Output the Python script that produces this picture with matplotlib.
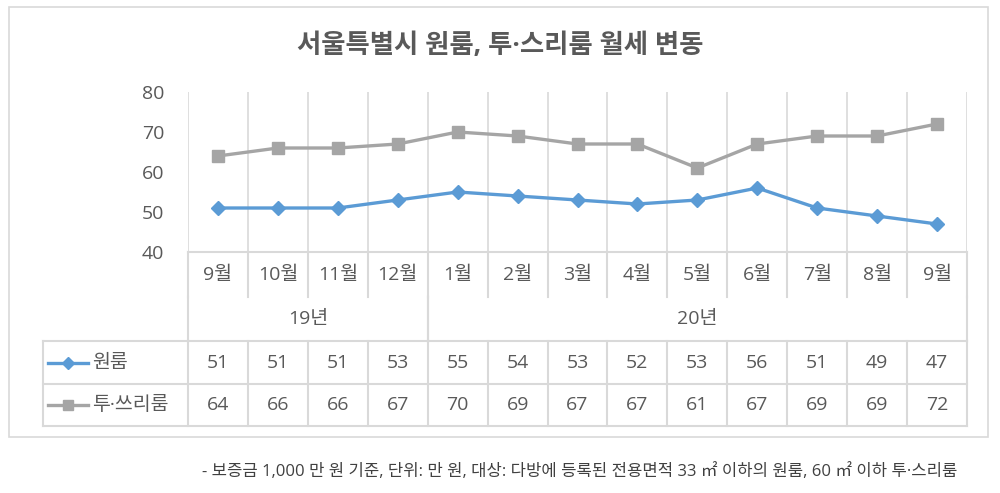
import matplotlib
matplotlib.use("Agg")
import matplotlib.pyplot as plt
from matplotlib.patches import Rectangle
from matplotlib.lines import Line2D

plt.rcParams["font.family"] = ["Open Sans", "Noto Sans CJK KR", "DejaVu Sans"]

# data
months = ["9월", "10월", "11월", "12월", "1월", "2월", "3월", "4월", "5월", "6월", "7월", "8월", "9월"]
years = ["19년", "20년"]
year_spans = [(0, 3), (4, 12)]
oneroom = [51, 51, 51, 53, 55, 54, 53, 52, 53, 56, 51, 49, 47]
tworoom = [64, 66, 66, 67, 70, 69, 67, 67, 61, 67, 69, 69, 72]
series_names = ["원룸", "투·쓰리룸"]
yticks = [40, 50, 60, 70, 80]

title = "서울특별시 원룸, 투·스리룸 월세 변동"
note = "- 보증금 1,000 만 원 기준, 단위: 만 원, 대상: 다방에 등록된 전용면적 33 ㎡ 이하의 원룸, 60 ㎡ 이하 투·스리룸"

BLUE = "#5B9BD5"
GREY = "#A5A5A5"
GRID = "#D9D9D9"
TEXT = "#595959"

W, H = 1000, 493
PLOT_L, PLOT_R = 188, 967
PLOT_T, PLOT_B = 92, 252
TAB_L = 43
ROW_Y = [252, 297, 341, 384, 426]


def box(l, t, r, b):
    return [l / W, 1 - b / H, (r - l) / W, (b - t) / H]


fig = plt.figure(figsize=(W / 100, H / 100), dpi=100)

# outer frame
fig.patches.append(Rectangle((9 / W, 1 - 437 / H), 979 / W, 430 / H,
                             transform=fig.transFigure, fill=False,
                             edgecolor=GRID, linewidth=1.2))

fig.text(500 / W, 1 - 45 / H, title, ha="center", va="center",
         fontsize=19, fontweight="bold", color=TEXT)

# ---- line chart
n = len(months)
x = list(range(n))
ax = fig.add_axes(box(PLOT_L, PLOT_T, PLOT_R, PLOT_B))
ax.set_xlim(-0.5, n - 0.5)
ax.set_ylim(yticks[0], yticks[-1])
for k in range(n + 1):
    ax.axvline(k - 0.5, color=GRID, linewidth=1.2, zorder=0)
ax.plot(x, tworoom, color=GREY, linewidth=2.4, marker="s", markersize=8.5, zorder=3, clip_on=False)
ax.plot(x, oneroom, color=BLUE, linewidth=2.4, marker="D", markersize=7.5, zorder=3, clip_on=False)
ax.set_yticks(yticks)
ax.set_xticks([])
ax.tick_params(axis="y", length=0, pad=17, labelsize=14, labelcolor=TEXT)
for s in ["top", "right", "left"]:
    ax.spines[s].set_visible(False)
ax.spines["bottom"].set_color(GRID)
ax.spines["bottom"].set_linewidth(1.5)

# ---- data table
colw = (PLOT_R - PLOT_L) / n
tab = fig.add_axes(box(TAB_L, ROW_Y[0], PLOT_R, ROW_Y[-1]))
x_left = -0.5 - (PLOT_L - TAB_L) / colw
tab.set_xlim(x_left, n - 0.5)
tab.set_ylim(ROW_Y[-1], ROW_Y[0])
tab.axis("off")


def px(v):
    return -0.5 + (v - PLOT_L) / colw


lk = dict(color=GRID, linewidth=1.5, clip_on=False)
# month row dividers
for k in range(n + 1):
    tab.plot([k - 0.5, k - 0.5], [ROW_Y[0], ROW_Y[1]], **lk)
# year row dividers
for a, b in year_spans:
    for e in (a - 0.5, b + 0.5):
        tab.plot([e, e], [ROW_Y[1], ROW_Y[2]], **lk)
# value rows
for yy in ROW_Y[2:]:
    tab.plot([x_left, n - 0.5], [yy, yy], **lk)
for k in range(n + 1):
    tab.plot([k - 0.5, k - 0.5], [ROW_Y[2], ROW_Y[4]], **lk)
tab.plot([x_left, x_left], [ROW_Y[2], ROW_Y[4]], **lk)

tk = dict(ha="center", va="center", fontsize=14, color=TEXT)
for i, m in enumerate(months):
    tab.text(i, (ROW_Y[0] + ROW_Y[1]) / 2, m, **tk)
for (a, b), label in zip(year_spans, years):
    tab.text((a + b) / 2, (ROW_Y[1] + ROW_Y[2]) / 2, label, **tk)

rows = [(oneroom, BLUE, "D", 6), (tworoom, GREY, "s", 7)]
for r, ((vals, col, mk, ms), name) in enumerate(zip(rows, series_names)):
    yc = (ROW_Y[2 + r] + ROW_Y[3 + r]) / 2
    tab.add_line(Line2D([px(48), px(88)], [yc, yc], color=col, linewidth=2.4, clip_on=False))
    tab.add_line(Line2D([px(68)], [yc], color=col, marker=mk, markersize=ms,
                        linestyle="none", clip_on=False))
    tab.text(px(92), yc, name, ha="left", va="center", fontsize=14, color=TEXT)
    for i, v in enumerate(vals):
        tab.text(i, yc, str(v), **tk)

fig.text(957 / W, 1 - 472 / H, note, ha="right", va="center", fontsize=12, color="#404040")

fig.savefig("out.png", dpi=100)
